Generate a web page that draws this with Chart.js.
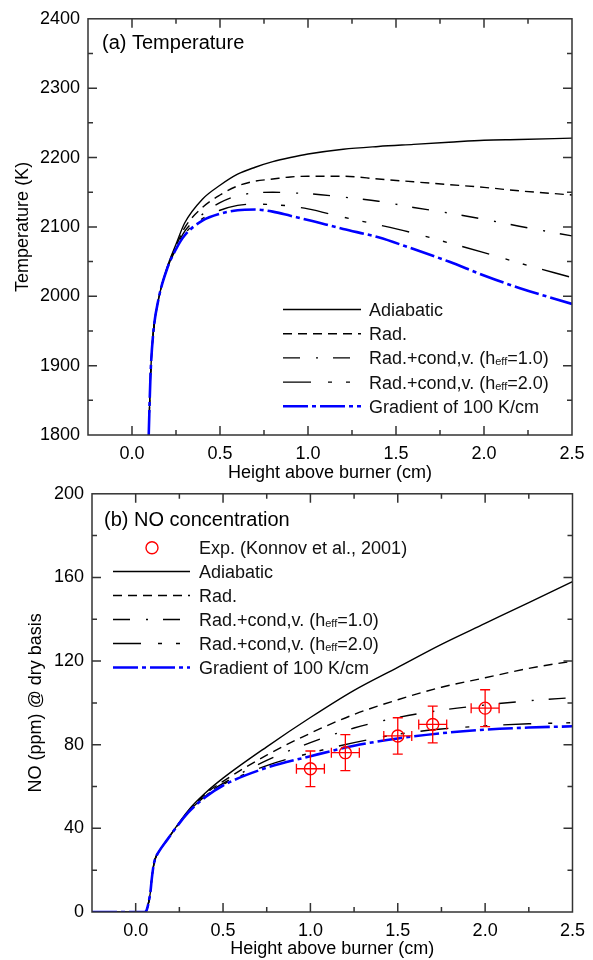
<!DOCTYPE html>
<html>
<head>
<meta charset="utf-8">
<script src="https://cdn.jsdelivr.net/npm/chart.js@4.4.0/dist/chart.umd.min.js"></script>
<style>
  body { margin: 0; background: #fff; width: 593px; height: 960px; position: relative; overflow: hidden; }
  .panel { position: absolute; left: 0; width: 593px; }
  #panelA { top: 0; height: 490px; }
  #panelB { top: 475px; height: 485px; }
</style>
</head>
<body>
<div class="panel" id="panelA"><canvas id="tempChart" width="593" height="490"></canvas></div>
<div class="panel" id="panelB"><canvas id="noChart" width="593" height="485"></canvas></div>
<script>
// (a) temperature
const tempX         = [0.095, 0.105, 0.12, 0.15, 0.2, 0.25, 0.3, 0.4, 0.5, 0.6, 0.7, 0.8, 0.9, 1.0, 1.2, 1.4, 1.6, 1.8, 2.0, 2.2, 2.5];
const tempAdiabatic = [1800, 1885, 1945, 1995, 2042, 2075, 2106, 2140, 2160, 2176, 2186, 2194, 2200, 2205, 2212, 2216, 2219, 2222, 2225, 2226, 2228];
const tempRad       = [1800, 1885, 1945, 1995, 2041, 2072, 2099, 2128, 2146, 2159, 2166, 2169, 2172, 2173, 2173, 2169, 2165, 2161, 2157, 2152, 2146];
const tempCond1     = [1800, 1885, 1945, 1995, 2040, 2070, 2094, 2118, 2135, 2145, 2149, 2150, 2149, 2148, 2143, 2137, 2128, 2120, 2111, 2101, 2087];
const tempCond2     = [1800, 1885, 1945, 1995, 2040, 2068, 2090, 2112, 2124, 2131, 2133, 2132, 2130, 2126, 2114, 2103, 2091, 2077, 2063, 2048, 2027];
const tempGradient  = [1800, 1885, 1945, 1995, 2040, 2068, 2088, 2109, 2119, 2124, 2125, 2122, 2116, 2110, 2097, 2085, 2068, 2050, 2030, 2012, 1989];

// (b) NO concentration
const noX         = [-0.25, 0.05, 0.063, 0.075, 0.085, 0.091, 0.1, 0.11, 0.13, 0.18, 0.3, 0.4, 0.5, 0.75, 1.0, 1.25, 1.5, 1.75, 2.0, 2.25, 2.5];
const noAdiabatic = [0, 0, 1, 5, 10, 15, 21, 25, 28.5, 34.5, 48.5, 57, 64, 79, 93, 106, 117, 128, 138, 148, 158];
const noRad       = [0, 0, 1, 5, 10, 15, 21, 25, 28.5, 34.5, 48, 56.5, 62.5, 75, 85.5, 94.5, 101.5, 107.5, 112, 116.5, 120];
const noCond1     = [0, 0, 1, 5, 10, 15, 21, 25, 28.5, 34.5, 48, 56, 61.5, 72.5, 81, 88, 93, 96.5, 99, 101, 102.5];
const noCond2     = [0, 0, 1, 5, 10, 15, 21, 25, 28.5, 34.5, 47.8, 55.5, 61, 70, 76, 81, 85, 87.5, 89, 90, 90.5];
const noGradient  = [0, 0, 1, 5, 10, 15, 21, 25, 28.5, 34.5, 47.5, 55, 60.5, 69, 74.5, 79.5, 83, 85.5, 87.2, 88.2, 88.8];

// experiment (Konnov et al., 2001)
const expX    = [1.0, 1.2, 1.5, 1.7, 2.0];
const expNO   = [68.5, 76.2, 84.2, 89.7, 97.5];
const expErrY = [8.5, 8.6, 8.7, 8.8, 8.8];
const expErrX = [0.08, 0.08, 0.08, 0.08, 0.08];

const seriesNames = ['Adiabatic', 'Rad.', 'Rad.+cond,v. (h{eff}=1.0)', 'Rad.+cond,v. (h{eff}=2.0)', 'Gradient of 100 K/cm'];
const FONT = '"Liberation Sans", Arial, sans-serif';

function pts(xs, ys) {
  return xs.map((x, i) => ({ x: x, y: ys[i] }));
}

// line styles for the five model curves
const styles = [
  { borderColor: '#000', borderWidth: 1.4, borderDash: [] },
  { borderColor: '#000', borderWidth: 1.4, borderDash: [9, 6] },
  { borderColor: '#000', borderWidth: 1.4, borderDash: [17, 16, 2, 15] },
  { borderColor: '#000', borderWidth: 1.4, borderDash: [28, 17, 4, 14, 4, 16] },
  { borderColor: '#0000ff', borderWidth: 2.6, borderDash: [25, 4, 4, 4] },
];

function lineSets(xs, series) {
  return series.map((ys, i) => Object.assign({
    label: seriesNames[i],
    data: pts(xs, ys),
    pointRadius: 0,
    fill: false,
    cubicInterpolationMode: 'monotone',
    order: i === 4 ? 1 : i + 2,
  }, styles[i]));
}

function isMajor(v, step) {
  return Math.abs(v / step - Math.round(v / step)) < 1e-6;
}

function drawRich(ctx, text, x, y, size) {
  const parts = text.split(/(\{[^}]*\})/);
  let cx = x;
  parts.forEach(p => {
    if (!p) return;
    const sub = p.charAt(0) === '{';
    const s = sub ? p.slice(1, -1) : p;
    ctx.font = (sub ? Math.round(size * 0.6) : size) + 'px ' + FONT;
    ctx.fillText(s, cx, sub ? y + 1 : y);
    cx += ctx.measureText(s).width;
  });
}

// frame + inward ticks on all four sides, panel title, legend, error bars
const decor = {
  id: 'decor',
  afterDraw(chart, args, opts) {
    const ctx = chart.ctx;
    const a = chart.chartArea;
    const xs = chart.scales.x, ys = chart.scales.y;
    ctx.save();

    // error bars
    chart.data.datasets.forEach(ds => {
      if (!ds.errY) return;
      ctx.strokeStyle = '#ff0000';
      ctx.lineWidth = 1.3;
      ctx.setLineDash([]);
      ds.data.forEach((p, i) => {
        const px = xs.getPixelForValue(p.x), py = ys.getPixelForValue(p.y);
        const y0 = ys.getPixelForValue(p.y - ds.errY[i]), y1 = ys.getPixelForValue(p.y + ds.errY[i]);
        const x0 = xs.getPixelForValue(p.x - ds.errX[i]), x1 = xs.getPixelForValue(p.x + ds.errX[i]);
        ctx.beginPath();
        ctx.moveTo(px, y0); ctx.lineTo(px, y1);
        ctx.moveTo(px - 5, y0); ctx.lineTo(px + 5, y0);
        ctx.moveTo(px - 5, y1); ctx.lineTo(px + 5, y1);
        ctx.moveTo(x0, py); ctx.lineTo(x1, py);
        ctx.moveTo(x0, py - 5); ctx.lineTo(x0, py + 5);
        ctx.moveTo(x1, py - 5); ctx.lineTo(x1, py + 5);
        ctx.stroke();
      });
    });

    // frame and ticks
    ctx.strokeStyle = '#333';
    ctx.lineWidth = 1.5;
    ctx.setLineDash([]);
    ctx.strokeRect(a.left, a.top, a.right - a.left, a.bottom - a.top);
    ctx.beginPath();
    xs.ticks.forEach(t => {
      if (t.value <= xs.min || t.value >= xs.max) return;
      const px = xs.getPixelForValue(t.value);
      const len = isMajor(t.value, opts.xMajor) ? 9 : 5;
      ctx.moveTo(px, a.bottom); ctx.lineTo(px, a.bottom - len);
      ctx.moveTo(px, a.top); ctx.lineTo(px, a.top + len);
    });
    ys.ticks.forEach(t => {
      if (t.value <= ys.min || t.value >= ys.max) return;
      const py = ys.getPixelForValue(t.value);
      const len = isMajor(t.value, opts.yMajor) ? 9 : 5;
      ctx.moveTo(a.left, py); ctx.lineTo(a.left + len, py);
      ctx.moveTo(a.right, py); ctx.lineTo(a.right - len, py);
    });
    ctx.stroke();

    // panel title
    ctx.fillStyle = '#000';
    ctx.textBaseline = 'middle';
    ctx.font = '20px ' + FONT;
    ctx.fillText(opts.title, opts.titleX, opts.titleY);

    // legend
    const L = opts.legend;
    ctx.textBaseline = 'alphabetic';
    let row = 0;
    chart.data.datasets.forEach(ds => {
      const y = ds.errY ? L.expY : L.y0 + row * L.dy;
      if (ds.errY) {
        ctx.strokeStyle = ds.pointBorderColor;
        ctx.lineWidth = ds.pointBorderWidth;
        ctx.setLineDash([]);
        ctx.beginPath();
        ctx.arc(L.markX, y, ds.pointRadius, 0, Math.PI * 2);
        ctx.stroke();
      } else {
        ctx.strokeStyle = ds.borderColor;
        ctx.lineWidth = ds.borderWidth;
        ctx.setLineDash(ds.borderDash);
        ctx.beginPath();
        ctx.moveTo(L.x0, y); ctx.lineTo(L.x1, y);
        ctx.stroke();
        row++;
      }
      ctx.fillStyle = '#111';
      drawRich(ctx, ds.label, L.textX, y + 6.5, 18);
    });
    ctx.restore();
  }
};

function axisX(height, titlePad) {
  return {
    type: 'linear', min: -0.25, max: 2.5,
    afterFit(s) { s.height = height; },
    grid: { display: false, drawTicks: false },
    border: { display: false },
    ticks: {
      stepSize: 0.25, autoSkip: false, maxRotation: 0, padding: 8,
      color: '#000', font: { family: FONT, size: 18 },
      callback: v => isMajor(v, 0.5) ? v.toFixed(1) : ''
    },
    title: { display: true, text: 'Height above burner (cm)', color: '#000', font: { family: FONT, size: 18 }, padding: { top: 0, bottom: titlePad } }
  };
}

function axisY(min, max, step, major, width, title, titlePad) {
  return {
    type: 'linear', min: min, max: max,
    afterFit(s) { s.width = width; },
    grid: { display: false, drawTicks: false },
    border: { display: false },
    ticks: {
      stepSize: step, autoSkip: false, padding: 8,
      color: '#000', font: { family: FONT, size: 18 },
      callback: v => isMajor(v, major) ? String(v) : ''
    },
    title: { display: true, text: title, color: '#000', font: { family: FONT, size: 18 }, padding: { top: titlePad, bottom: 0 } }
  };
}

new Chart(document.getElementById('tempChart'), {
  type: 'line',
  data: { datasets: lineSets(tempX, [tempAdiabatic, tempRad, tempCond1, tempCond2, tempGradient]) },
  options: {
    responsive: false,
    animation: false,
    layout: { padding: { left: 0, right: 21, top: 13, bottom: 0 } },
    plugins: {
      legend: { display: false },
      tooltip: { enabled: false },
      decor: {
        title: '(a) Temperature', titleX: 102, titleY: 43, xMajor: 0.5, yMajor: 100,
        legend: { x0: 283, x1: 361, textX: 369, y0: 309.5, dy: 24.2 }
      }
    },
    scales: {
      x: axisX(55, 6),
      y: axisY(1800, 2400, 50, 100, 88, 'Temperature (K)', 12)
    }
  },
  plugins: [decor]
});

const noSets = lineSets(noX, [noAdiabatic, noRad, noCond1, noCond2, noGradient]);
noSets.unshift({
  label: 'Exp. (Konnov et al., 2001)',
  data: pts(expX, expNO),
  errX: expErrX,
  errY: expErrY,
  showLine: false,
  pointStyle: 'circle',
  pointRadius: 6,
  pointBorderColor: '#ff0000',
  pointBackgroundColor: 'rgba(0,0,0,0)',
  pointBorderWidth: 1.4,
  borderColor: '#ff0000',
  order: 0
});

new Chart(document.getElementById('noChart'), {
  type: 'line',
  data: { datasets: noSets },
  options: {
    responsive: false,
    animation: false,
    layout: { padding: { left: 0, right: 20, top: 18, bottom: 0 } },
    plugins: {
      legend: { display: false },
      tooltip: { enabled: false },
      decor: {
        title: '(b) NO concentration', titleX: 104, titleY: 45, xMajor: 0.5, yMajor: 40,
        legend: { x0: 113, x1: 190, textX: 199, markX: 152, expY: 72.7, y0: 96.5, dy: 24 }
      }
    },
    scales: {
      x: axisX(48, 0),
      y: axisY(0, 200, 20, 40, 92, 'NO (ppm) @ dry basis', 25)
    }
  },
  plugins: [decor]
});
</script>
</body>
</html>
